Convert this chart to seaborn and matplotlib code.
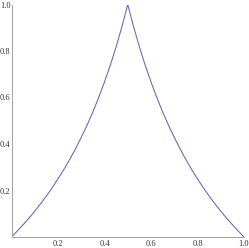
import matplotlib
matplotlib.use("Agg")
import matplotlib.pyplot as plt
import seaborn as sns
import pandas as pd
from matplotlib.ticker import MultipleLocator, FixedLocator

# values
x_vals = [0.0, 0.025, 0.05, 0.075, 0.1, 0.125, 0.15, 0.175, 0.2, 0.225, 0.25,
          0.275, 0.3, 0.325, 0.35, 0.375, 0.4, 0.425, 0.45, 0.475, 0.5,
          0.525, 0.55, 0.575, 0.6, 0.625, 0.65, 0.675, 0.7, 0.725, 0.75,
          0.775, 0.8, 0.825, 0.85, 0.875, 0.9, 0.925, 0.95, 0.975, 1.0]
y_vals = [0.0, 0.026, 0.053, 0.081, 0.111, 0.143, 0.176, 0.212, 0.25, 0.29, 0.333,
          0.379, 0.429, 0.481, 0.538, 0.6, 0.667, 0.739, 0.818, 0.905, 1.0,
          0.905, 0.818, 0.739, 0.667, 0.6, 0.538, 0.481, 0.429, 0.379, 0.333,
          0.29, 0.25, 0.212, 0.176, 0.143, 0.111, 0.081, 0.053, 0.026, 0.0]
tick_vals = [0.2, 0.4, 0.6, 0.8, 1.0]
tick_labels = ["0.2", "0.4", "0.6", "0.8", "1.0"]

df = pd.DataFrame({"x": x_vals, "y": y_vals})

sns.set_style("white")
plt.rcParams["font.family"] = ["Liberation Serif", "DejaVu Serif"]

fig = plt.figure(figsize=(2.49, 2.48), dpi=100)
ax = fig.add_axes([11.5 / 249, 11 / 248, 232.5 / 249, 232.5 / 248])
sns.lineplot(data=df, x="x", y="y", ax=ax, color="#6464c4", linewidth=0.75,
             sort=False, estimator=None)
ax.set_xlim(0, 1)
ax.set_ylim(0, 1)
ax.set_xlabel("")
ax.set_ylabel("")
for s in ["top", "right"]:
    ax.spines[s].set_visible(False)
for s in ["left", "bottom"]:
    ax.spines[s].set_color("#a8a8a8")
    ax.spines[s].set_linewidth(0.8)
ax.xaxis.set_major_locator(FixedLocator(tick_vals))
ax.yaxis.set_major_locator(FixedLocator(tick_vals))
ax.set_xticklabels(tick_labels)
ax.set_yticklabels(tick_labels)
ax.xaxis.set_minor_locator(MultipleLocator(0.05))
ax.yaxis.set_minor_locator(MultipleLocator(0.05))
ax.tick_params(which="major", direction="in", length=3.0, width=0.6,
               color="#a8a8a8", labelsize=6, labelcolor="#333333")
ax.tick_params(which="minor", direction="in", length=1.8, width=0.5,
               color="#a8a8a8")
ax.tick_params(axis="x", which="major", pad=2.5)
ax.tick_params(axis="y", which="major", pad=0.8)
ax.patch.set_alpha(0)
for lab in ax.get_xticklabels() + ax.get_yticklabels():
    lab.set_clip_on(False)
fig.savefig("out.png", dpi=100)
